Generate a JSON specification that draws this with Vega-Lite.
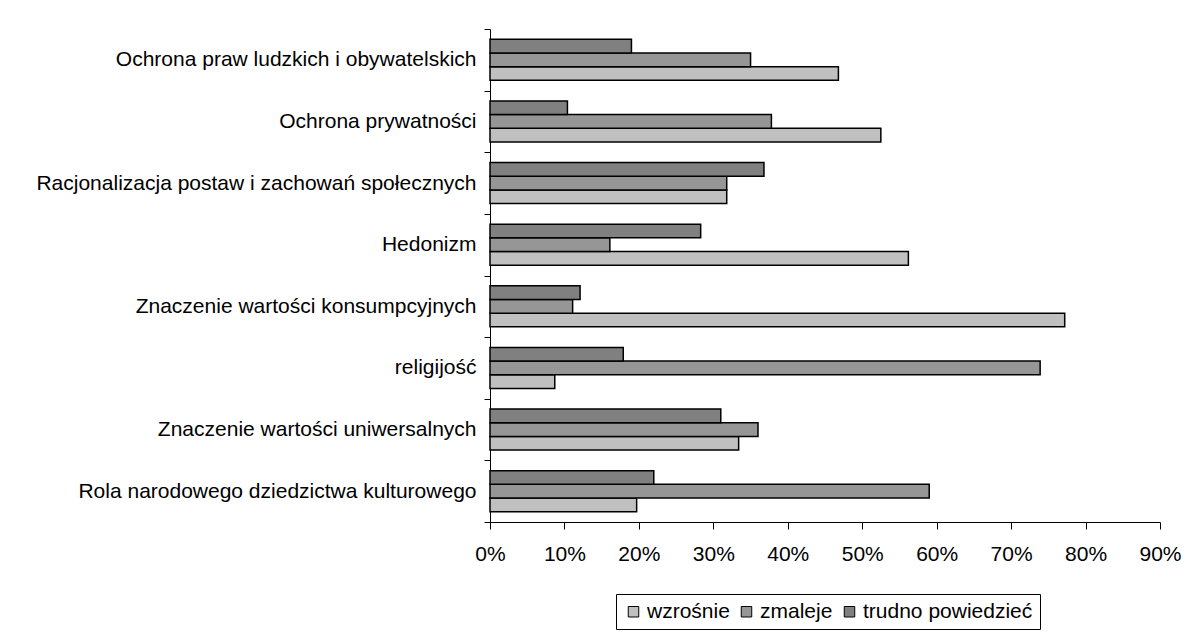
{
  "$schema": "https://vega.github.io/schema/vega-lite/v6.json",
  "width": 670,
  "height": 493,
  "autosize": {"type": "none"},
  "padding": {"left": 490, "top": 29, "right": 26, "bottom": 113},
  "background": "white",
  "config": {
    "font": "Liberation Sans",
    "view": {"stroke": null},
    "axis": {"domainColor": "#000000", "tickColor": "#000000", "labelColor": "#000000", "labelFont": "Liberation Sans", "labelFontSize": 21, "grid": false, "title": null}
  },
  "data": {
    "values": [
      {"kategoria": "Ochrona praw ludzkich i obywatelskich", "seria": "wzrośnie", "wartosc": 0.468},
      {"kategoria": "Ochrona praw ludzkich i obywatelskich", "seria": "zmaleje", "wartosc": 0.350},
      {"kategoria": "Ochrona praw ludzkich i obywatelskich", "seria": "trudno powiedzieć", "wartosc": 0.190},
      {"kategoria": "Ochrona prywatności", "seria": "wzrośnie", "wartosc": 0.525},
      {"kategoria": "Ochrona prywatności", "seria": "zmaleje", "wartosc": 0.378},
      {"kategoria": "Ochrona prywatności", "seria": "trudno powiedzieć", "wartosc": 0.104},
      {"kategoria": "Racjonalizacja postaw i zachowań społecznych", "seria": "wzrośnie", "wartosc": 0.318},
      {"kategoria": "Racjonalizacja postaw i zachowań społecznych", "seria": "zmaleje", "wartosc": 0.318},
      {"kategoria": "Racjonalizacja postaw i zachowań społecznych", "seria": "trudno powiedzieć", "wartosc": 0.368},
      {"kategoria": "Hedonizm", "seria": "wzrośnie", "wartosc": 0.562},
      {"kategoria": "Hedonizm", "seria": "zmaleje", "wartosc": 0.161},
      {"kategoria": "Hedonizm", "seria": "trudno powiedzieć", "wartosc": 0.283},
      {"kategoria": "Znaczenie wartości konsumpcyjnych", "seria": "wzrośnie", "wartosc": 0.772},
      {"kategoria": "Znaczenie wartości konsumpcyjnych", "seria": "zmaleje", "wartosc": 0.111},
      {"kategoria": "Znaczenie wartości konsumpcyjnych", "seria": "trudno powiedzieć", "wartosc": 0.121},
      {"kategoria": "religijość", "seria": "wzrośnie", "wartosc": 0.087},
      {"kategoria": "religijość", "seria": "zmaleje", "wartosc": 0.739},
      {"kategoria": "religijość", "seria": "trudno powiedzieć", "wartosc": 0.179},
      {"kategoria": "Znaczenie wartości uniwersalnych", "seria": "wzrośnie", "wartosc": 0.334},
      {"kategoria": "Znaczenie wartości uniwersalnych", "seria": "zmaleje", "wartosc": 0.360},
      {"kategoria": "Znaczenie wartości uniwersalnych", "seria": "trudno powiedzieć", "wartosc": 0.310},
      {"kategoria": "Rola narodowego dziedzictwa kulturowego", "seria": "wzrośnie", "wartosc": 0.197},
      {"kategoria": "Rola narodowego dziedzictwa kulturowego", "seria": "zmaleje", "wartosc": 0.590},
      {"kategoria": "Rola narodowego dziedzictwa kulturowego", "seria": "trudno powiedzieć", "wartosc": 0.220}
    ]
  },
  "mark": {"type": "bar", "stroke": "#000000", "strokeWidth": 1.5},
  "encoding": {
    "y": {
      "field": "kategoria",
      "type": "nominal",
      "sort": null,
      "scale": {"paddingInner": 0, "paddingOuter": 0},
      "axis": {"tickBand": "extent", "tickSize": 6, "labelPadding": 8, "labelLimit": 600, "domainWidth": 1}
    },
    "yOffset": {
      "field": "seria",
      "type": "nominal",
      "sort": ["trudno powiedzieć", "zmaleje", "wzrośnie"],
      "scale": {"paddingInner": 0, "paddingOuter": 0.75}
    },
    "x": {
      "field": "wartosc",
      "type": "quantitative",
      "scale": {"domain": [0, 0.9], "nice": false},
      "axis": {"format": ".0%", "values": [0, 0.1, 0.2, 0.3, 0.4, 0.5, 0.6, 0.7, 0.8, 0.9], "tickSize": 7, "labelPadding": 14, "labelFlush": false, "labelOverlap": false}
    },
    "color": {
      "field": "seria",
      "type": "nominal",
      "scale": {"domain": ["wzrośnie", "zmaleje", "trudno powiedzieć"], "range": ["#c0c0c0", "#969696", "#808080"]},
      "legend": {
        "title": null,
        "orient": "none",
        "legendX": 126,
        "legendY": 565,
        "direction": "horizontal",
        "strokeColor": "#000000",
        "padding": 7,
        "symbolType": "square",
        "symbolSize": 110,
        "symbolStrokeColor": "#000000",
        "symbolStrokeWidth": 1,
        "labelFontSize": 21,
        "labelFont": "Liberation Sans",
        "labelColor": "#000000",
        "labelOffset": 3,
        "labelLimit": 400,
        "columnPadding": 6
      }
    }
  }
}
